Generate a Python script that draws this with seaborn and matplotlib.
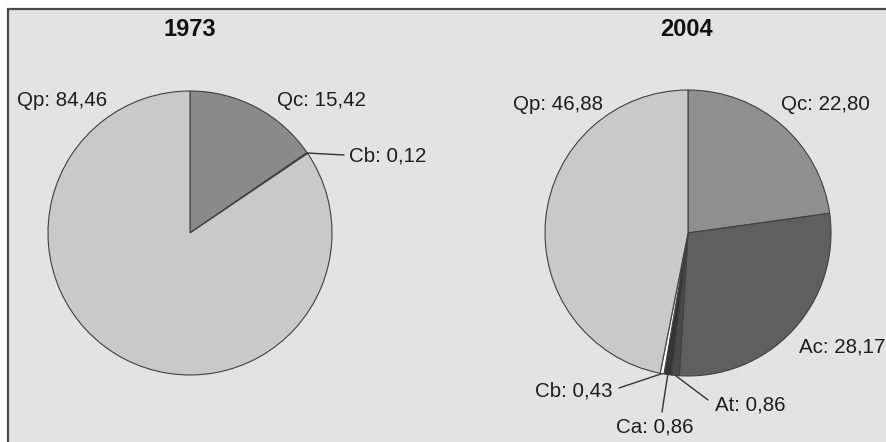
import matplotlib
matplotlib.use("Agg")
import matplotlib.pyplot as plt
import numpy as np
import seaborn as sns
from matplotlib.patches import Rectangle

# data
labels_1973 = ["Qc", "Cb", "Qp"]
values_1973 = [15.42, 0.12, 84.46]
colors_1973 = ["#8a8a8a", "#c9c9c9", "#c9c9c9"]

labels_2004 = ["Qc", "Ac", "At", "Ca", "Cb", "Qp"]
values_2004 = [22.80, 28.17, 0.86, 0.86, 0.43, 46.88]
colors_2004 = ["#8f8f8f", "#5f5f5f", "#4a4a4a", "#353535", "#ffffff", "#c9c9c9"]

years = ["1973", "2004"]

sns.set_style("white")
plt.rcParams["font.family"] = ["Liberation Sans", "DejaVu Sans"]

W, H = 887, 442
fig = plt.figure(figsize=(W / 100, H / 100), dpi=100)
ax = fig.add_axes([0, 0, 1, 1])
ax.set_xlim(0, W)
ax.set_ylim(0, H)
ax.axis("off")

# grey panel with frame
ax.add_patch(Rectangle((8, -10), W + 10, H - 9 + 10, facecolor="#e3e3e3",
                       edgecolor="#4a4a4a", linewidth=1.6, zorder=0))


def fmt(name, v):
    return "{}: {}".format(name, "{:.2f}".format(v).replace(".", ","))


def draw_pie(cx, cy, r, values, colors):
    wedges, _ = ax.pie(values, colors=colors, startangle=90, counterclock=False,
                       center=(cx, H - cy), radius=r, frame=True,
                       wedgeprops=dict(edgecolor="#404040", linewidth=0.8))
    return wedges


def edge_point(w, cx, cy, r):
    a = np.deg2rad((w.theta1 + w.theta2) / 2)
    return cx + r * np.cos(a), cy - r * np.sin(a)


fs = 14.8
tc = "#1e1e1e"

# 1973
cx1, cy1, r1 = 190, 233, 142
w1 = draw_pie(cx1, cy1, r1, values_1973, colors_1973)
ax.text(cx1, H - 30, years[0], ha="center", va="center", fontsize=17, fontweight="bold", color="#111111")
ax.text(17, H - 100, fmt(labels_1973[2], values_1973[2]), ha="left", va="center", fontsize=fs, color=tc)
ax.text(277, H - 100, fmt(labels_1973[0], values_1973[0]), ha="left", va="center", fontsize=fs, color=tc)
px, py = edge_point(w1[1], cx1, cy1, r1)
ax.plot([px, 344], [H - py, H - 155], color="#333333", lw=1)
ax.text(349, H - 156, fmt(labels_1973[1], values_1973[1]), ha="left", va="center", fontsize=fs, color=tc)

# 2004
cx2, cy2, r2 = 688, 233, 143
w2 = draw_pie(cx2, cy2, r2, values_2004, colors_2004)
ax.text(cx2 - 2, H - 30, years[1], ha="center", va="center", fontsize=17, fontweight="bold", color="#111111")
ax.text(513, H - 104, fmt(labels_2004[5], values_2004[5]), ha="left", va="center", fontsize=fs, color=tc)
ax.text(781, H - 104, fmt(labels_2004[0], values_2004[0]), ha="left", va="center", fontsize=fs, color=tc)
ax.text(799, H - 347, fmt(labels_2004[1], values_2004[1]), ha="left", va="center", fontsize=fs, color=tc)

small_pos = {"At": ((708, 400), (715, 405)),
             "Ca": ((662, 412), (616, 427)),
             "Cb": ((619, 388), (535, 391))}
for i, name in enumerate(labels_2004):
    if name not in small_pos:
        continue
    (lx, ly), (tx, ty) = small_pos[name]
    px, py = edge_point(w2[i], cx2, cy2, r2)
    ax.plot([px, lx], [H - py, H - ly], color="#333333", lw=1)
    ax.text(tx, H - ty, fmt(name, values_2004[i]), ha="left", va="center", fontsize=fs, color=tc)

ax.set_xlim(0, W)
ax.set_ylim(0, H)
ax.set_aspect("auto")
ax.axis("off")

fig.savefig("out.png", dpi=100)
